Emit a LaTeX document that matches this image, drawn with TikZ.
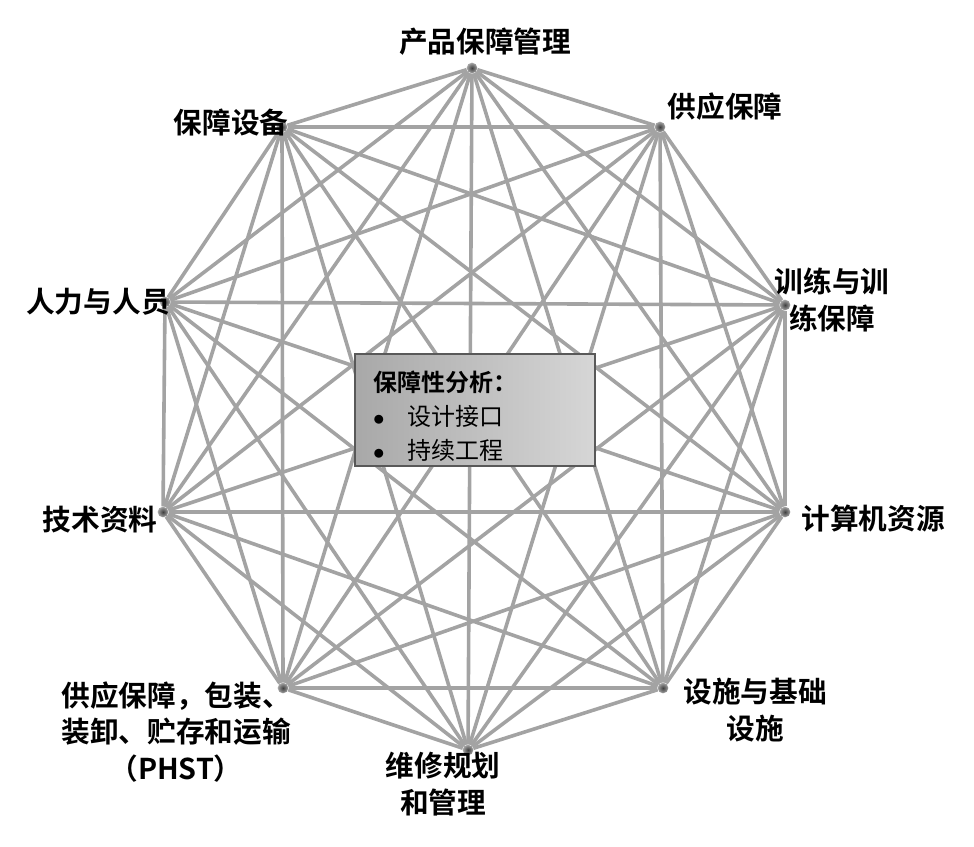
\documentclass[tikz,border=0pt]{standalone}
\usepackage{fontspec}
\setmainfont{Noto Sans CJK SC}[BoldFont={Noto Sans CJK SC Bold}]

\begin{document}
\begin{tikzpicture}[x=0.75pt, y=-0.75pt,
	link/.style={draw=black!36, line width=2.7pt},
	vert/.style={shape=circle, inner color=black!75, outer color=black!35, minimum size=8pt, inner sep=0pt},
	lab/.style={font=\fontsize{21.5}{27.5}\selectfont\bfseries, align=center, inner sep=0pt},
	box/.style={draw=black!65, line width=2pt, left color=black!34, right color=black!16, minimum width=180pt, minimum height=82.5pt, text width=153pt, align=left, font=\fontsize{18}{25.5}\selectfont}]
	\useasboundingbox (0,0) rectangle (974,846);
	\node[vert] (A) at (472,68) {};
	\node[vert] (B) at (660,127) {};
	\node[vert] (C) at (785,305) {};
	\node[vert] (D) at (785,512) {};
	\node[vert] (E) at (663,688) {};
	\node[vert] (F) at (468,750) {};
	\node[vert] (G) at (283,688) {};
	\node[vert] (H) at (163,512) {};
	\node[vert] (I) at (165,302) {};
	\node[vert] (J) at (282,127) {};
	\draw [link] (A) -- (B);
	\draw [link] (A) -- (C);
	\draw [link] (A) -- (D);
	\draw [link] (A) -- (E);
	\draw [link] (A) -- (F);
	\draw [link] (A) -- (G);
	\draw [link] (A) -- (H);
	\draw [link] (A) -- (I);
	\draw [link] (A) -- (J);
	\draw [link] (B) -- (C);
	\draw [link] (B) -- (D);
	\draw [link] (B) -- (E);
	\draw [link] (B) -- (F);
	\draw [link] (B) -- (G);
	\draw [link] (B) -- (H);
	\draw [link] (B) -- (I);
	\draw [link] (B) -- (J);
	\draw [link] (C) -- (D);
	\draw [link] (C) -- (E);
	\draw [link] (C) -- (F);
	\draw [link] (C) -- (G);
	\draw [link] (C) -- (H);
	\draw [link] (C) -- (I);
	\draw [link] (C) -- (J);
	\draw [link] (D) -- (E);
	\draw [link] (D) -- (F);
	\draw [link] (D) -- (G);
	\draw [link] (D) -- (H);
	\draw [link] (D) -- (I);
	\draw [link] (D) -- (J);
	\draw [link] (E) -- (F);
	\draw [link] (E) -- (G);
	\draw [link] (E) -- (H);
	\draw [link] (E) -- (I);
	\draw [link] (E) -- (J);
	\draw [link] (F) -- (G);
	\draw [link] (F) -- (H);
	\draw [link] (F) -- (I);
	\draw [link] (F) -- (J);
	\draw [link] (G) -- (H);
	\draw [link] (G) -- (I);
	\draw [link] (G) -- (J);
	\draw [link] (H) -- (I);
	\draw [link] (H) -- (J);
	\draw [link] (I) -- (J);
	\node[box] (K) at (475,410) {\rule{0pt}{25pt}\textbf{保障性分析：}\\$\bullet$\hspace{17pt}设计接口\\$\bullet$\hspace{17pt}持续工程};
	\node[lab] (LA) at (485,42) {产品保障管理};
	\node[lab] (LB) at (725,107) {供应保障};
	\node[lab] (LC) at (832,300) {训练与训\\练保障};
	\node[lab] (LD) at (873,519) {计算机资源};
	\node[lab] (LE) at (755,710) {设施与基础\\设施};
	\node[lab] (LF) at (443,784) {维修规划\\和管理};
	\node[lab] (LG) at (176,732) {供应保障，包装、\\装卸、贮存和运输\\（PHST）};
	\node[lab] (LH) at (100,520) {技术资料};
	\node[lab] (LI) at (98,302) {人力与人员};
	\node[lab] (LJ) at (231,123) {保障设备};
\end{tikzpicture}
\end{document}
